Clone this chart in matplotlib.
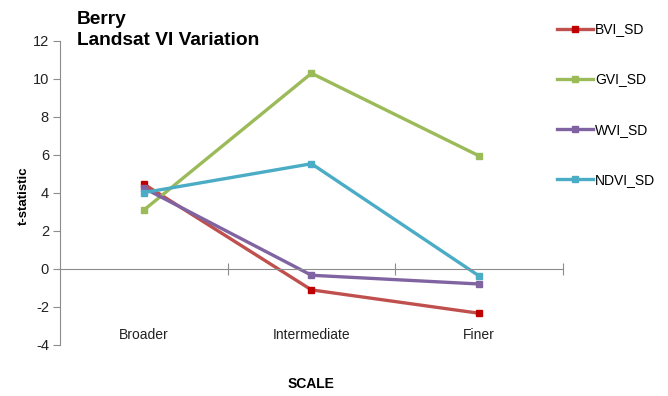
import matplotlib
matplotlib.use('Agg')
import matplotlib.pyplot as plt

plt.rcParams['font.family'] = ['Liberation Sans', 'DejaVu Sans']
plt.rcParams['axes.unicode_minus'] = False

# t-statistics per scale for each vegetation index
scales = ['Broader', 'Intermediate', 'Finer']
bvi_sd = [4.47, -1.1, -2.33]
gvi_sd = [3.1, 10.3, 5.95]
wvi_sd = [4.26, -0.33, -0.79]
ndvi_sd = [4.02, 5.54, -0.37]

series = [
    ('BVI_SD', bvi_sd, '#C0504D', '#C00000'),
    ('GVI_SD', gvi_sd, '#9BBB59', '#9BBB59'),
    ('WVI_SD', wvi_sd, '#8064A2', '#8064A2'),
    ('NDVI_SD', ndvi_sd, '#4BACC6', '#4BACC6'),
]

fig = plt.figure(figsize=(6.68, 3.96), dpi=100)
ax = fig.add_axes([0.0898, 0.1288, 0.753, 0.7677])

x = list(range(len(scales)))
for name, vals, col, mcol in series:
    ax.plot(x, vals, color=col, lw=2.4, marker='s', markersize=5,
            markerfacecolor=mcol, markeredgecolor=mcol, label=name)

ax.set_xlim(-0.5, 2.5)
ax.set_ylim(-4, 12)
ax.set_yticks(range(-4, 13, 2))

for s in ['top', 'right']:
    ax.spines[s].set_visible(False)
ax.spines['left'].set_color('#8c8c8c')
ax.spines['bottom'].set_color('#8c8c8c')
ax.spines['bottom'].set_position(('data', 0))

ax.set_xticks([0.5, 1.5, 2.5])
ax.set_xticklabels([])
ax.tick_params(axis='x', direction='inout', length=8, color='#8c8c8c')
ax.tick_params(axis='y', direction='out', length=5, color='#8c8c8c',
               labelsize=10.5, labelcolor='#222222', pad=3)

for i, lab in enumerate(scales):
    ax.text(i, -3.45, lab, ha='center', va='center', fontsize=10, color='#222222')

ax.set_xlabel('SCALE', fontsize=10, fontweight='bold', labelpad=0)
ax.xaxis.set_label_coords(0.5, -0.105)
ax.set_ylabel('t-statistic', fontsize=9.5, fontweight='bold')
ax.yaxis.set_label_coords(-0.06, 0.49)

fig.text(0.115, 0.972, 'Berry\nLandsat VI Variation', ha='left', va='top',
         fontsize=13.8, fontweight='bold', linespacing=1.3)

fig.legend(loc='upper left', bbox_to_anchor=(0.815, 0.975), frameon=False,
           fontsize=10, handlelength=2.6, handletextpad=0.15,
           labelspacing=2.6, markerscale=0.9)

fig.savefig('out.png', dpi=100)
